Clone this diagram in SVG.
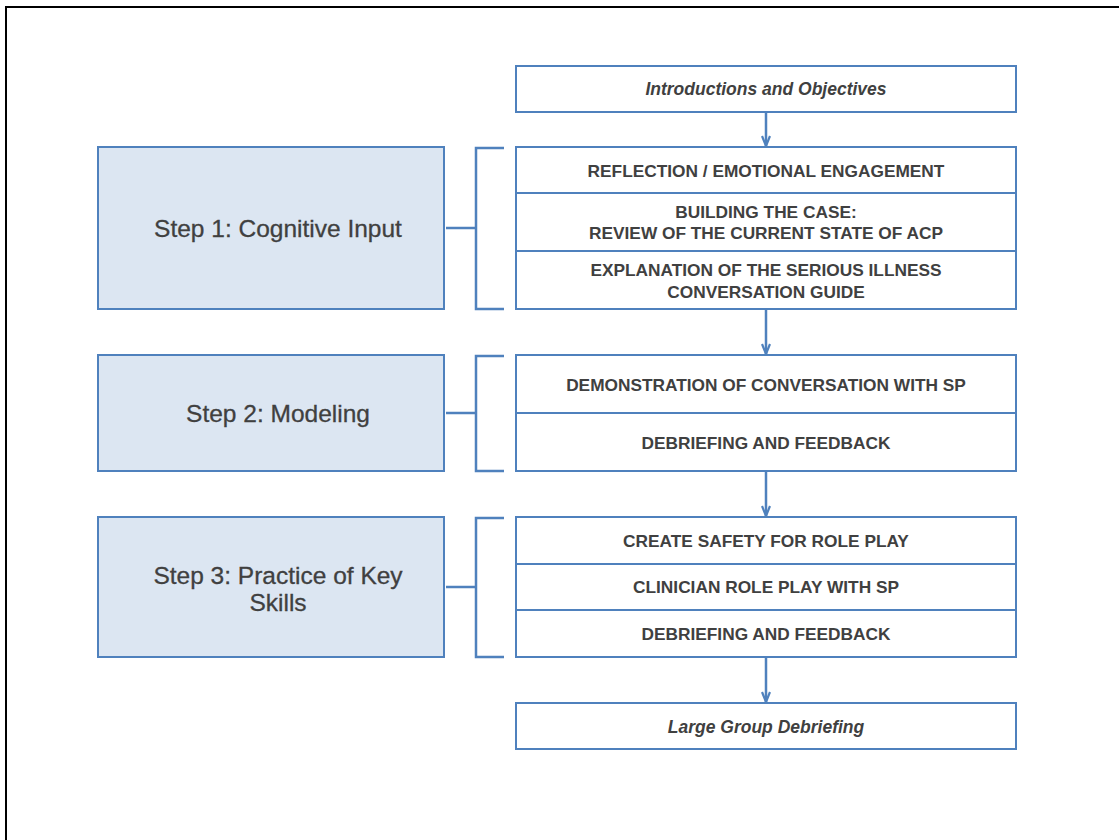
<svg xmlns="http://www.w3.org/2000/svg" width="1119" height="840" viewBox="0 0 1119 840">
<style>
.box{fill:#fff;stroke:#4F81BD;stroke-width:2}
.step{fill:#DCE6F2;stroke:#4F81BD;stroke-width:2}
.ln{fill:none;stroke:#4F81BD;stroke-width:2.5}
.t{font-family:"Liberation Sans",Arial,sans-serif;font-weight:bold;font-size:17.3px;fill:#404040;text-anchor:middle}
.ti{font-family:"Liberation Sans",Arial,sans-serif;font-weight:bold;font-style:italic;font-size:17.5px;fill:#404040;text-anchor:middle}
.ts{font-family:"Liberation Sans",Arial,sans-serif;font-size:24.5px;fill:#404040;text-anchor:middle;stroke:#404040;stroke-width:0.3}
</style>
<defs>
<marker id="ah" viewBox="0 0 12 10" refX="11" refY="5" markerWidth="12" markerHeight="10" markerUnits="userSpaceOnUse" orient="auto">
<path d="M1,1 L11,5 L1,9" fill="none" stroke="#4F81BD" stroke-width="2.2"/>
</marker>
</defs>
<path d="M6,840 V7 H1119" fill="none" stroke="#000" stroke-width="2"/>
<g id="intro"><rect class="box" x="516" y="66" width="500" height="46"/><text class="ti" x="766" y="94.5">Introductions and Objectives</text></g>
<g id="step1"><rect class="step" x="98" y="147" width="346" height="162"/><text class="ts" x="278" y="237">Step 1: Cognitive Input</text></g>
<g id="group1">
<rect class="box" x="516" y="147" width="500" height="162"/>
<line class="box" x1="516" y1="193" x2="1016" y2="193"/>
<line class="box" x1="516" y1="251" x2="1016" y2="251"/>
<text class="t" x="766" y="176.5">REFLECTION / EMOTIONAL ENGAGEMENT</text>
<text class="t" x="766" y="217.5">BUILDING THE CASE:</text>
<text class="t" x="766" y="238.5">REVIEW OF THE CURRENT STATE OF ACP</text>
<text class="t" x="766" y="275.5">EXPLANATION OF THE SERIOUS ILLNESS</text>
<text class="t" x="766" y="297.5">CONVERSATION GUIDE</text>
</g>
<g id="step2"><rect class="step" x="98" y="355" width="346" height="116"/><text class="ts" x="278" y="422">Step 2: Modeling</text></g>
<g id="group2">
<rect class="box" x="516" y="355" width="500" height="116"/>
<line class="box" x1="516" y1="413" x2="1016" y2="413"/>
<text class="t" x="766" y="390.5">DEMONSTRATION OF CONVERSATION WITH SP</text>
<text class="t" x="766" y="448.5">DEBRIEFING AND FEEDBACK</text>
</g>
<g id="step3"><rect class="step" x="98" y="517" width="346" height="140"/><text class="ts" x="278" y="584">Step 3: Practice of Key</text><text class="ts" x="278" y="611">Skills</text></g>
<g id="group3">
<rect class="box" x="516" y="517" width="500" height="140"/>
<line class="box" x1="516" y1="564" x2="1016" y2="564"/>
<line class="box" x1="516" y1="610" x2="1016" y2="610"/>
<text class="t" x="766" y="546.5">CREATE SAFETY FOR ROLE PLAY</text>
<text class="t" x="766" y="593">CLINICIAN ROLE PLAY WITH SP</text>
<text class="t" x="766" y="639.5">DEBRIEFING AND FEEDBACK</text>
</g>
<g id="final"><rect class="box" x="516" y="703" width="500" height="46"/><text class="ti" x="766" y="733">Large Group Debriefing</text></g>
<g id="connectors">
<line class="ln" x1="766" y1="112" x2="766" y2="146" marker-end="url(#ah)"/>
<line class="ln" x1="766" y1="309" x2="766" y2="354" marker-end="url(#ah)"/>
<line class="ln" x1="766" y1="471" x2="766" y2="516" marker-end="url(#ah)"/>
<line class="ln" x1="766" y1="657" x2="766" y2="702" marker-end="url(#ah)"/>
<path class="ln" d="M504,148 H476 V309 H504"/>
<line class="ln" x1="446" y1="228" x2="476" y2="228"/>
<path class="ln" d="M504,356 H476 V471 H504"/>
<line class="ln" x1="446" y1="413" x2="476" y2="413"/>
<path class="ln" d="M504,518 H476 V657 H504"/>
<line class="ln" x1="446" y1="587" x2="476" y2="587"/>
</g>
</svg>
